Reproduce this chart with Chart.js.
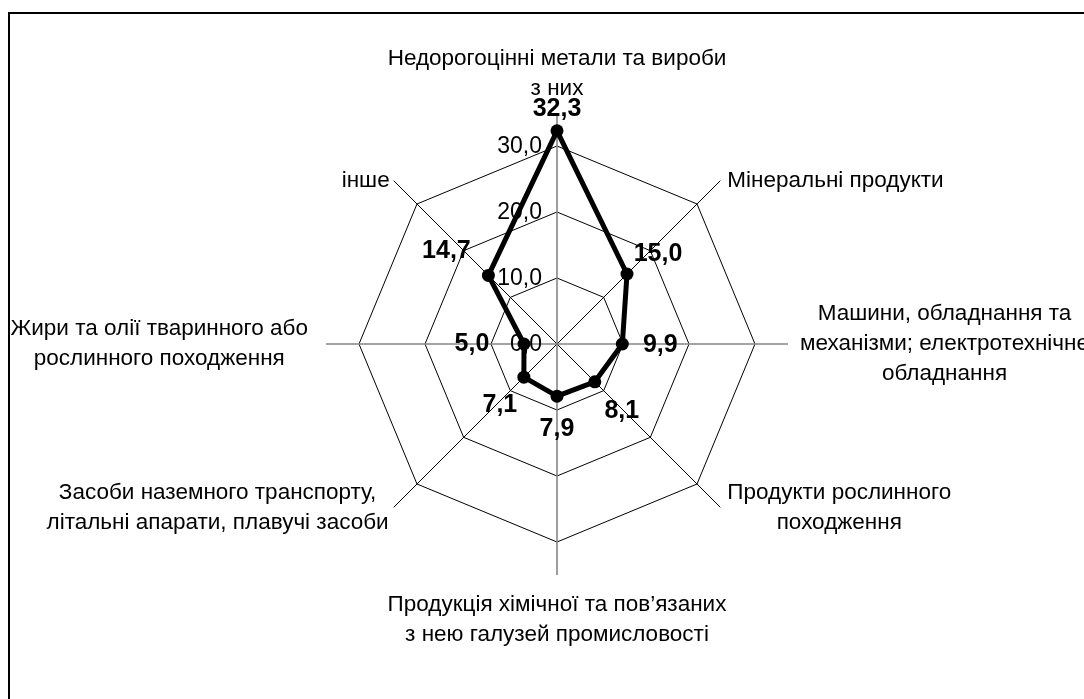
<!DOCTYPE html>
<html>
<head>
<meta charset="utf-8">
<script src="https://cdn.jsdelivr.net/npm/chart.js@4/dist/chart.umd.min.js"></script>
<style>
  html, body { margin: 0; padding: 0; background: #fff; }
  #wrap { width: 1084px; height: 699px; position: relative; }
</style>
</head>
<body>
<div id="wrap"><canvas id="radar"></canvas></div>
<script>
// categories, clockwise from the top (each entry = lines of the label)
const categories = [
  ["Недорогоцінні метали та вироби", "з них"],
  ["Мінеральні продукти"],
  ["Машини, обладнання та", "механізми; електротехнічне", "обладнання"],
  ["Продукти рослинного", "походження"],
  ["Продукція хімічної та пов’язаних", "з нею галузей промисловості"],
  ["Засоби наземного транспорту,", "літальні апарати, плавучі засоби"],
  ["Жири та олії тваринного або", "рослинного походження"],
  ["інше"]
];
const shares = [32.3, 15.0, 9.9, 8.1, 7.9, 7.1, 5.0, 14.7];
const tickValues = [0, 10, 20, 30];

// layout / style
const FONT = '"Liberation Sans", Arial, sans-serif';
const LABEL_PAD = [9, 7, 12, 7, 15, 5, 18, 4];
const LINE_H = 30;
const VALUE_OFFSETS = [[0, -22], [31, -20], [38, 1], [27, 29], [0, 33], [-24, 28], [-52, 0], [-42, -24]];

const fmt = v => v.toFixed(1).replace(".", ",");

const frame = {
  id: "frame",
  beforeDraw(chart) {
    const ctx = chart.ctx;
    ctx.save();
    ctx.fillStyle = "#fff";
    ctx.fillRect(0, 0, chart.width, chart.height);
    ctx.strokeStyle = "#000";
    ctx.lineWidth = 2;
    ctx.strokeRect(9, 13, 2000, 2000);
    ctx.restore();
  }
};

const radarText = {
  id: "radarText",
  beforeDatasetsDraw(chart) {
    const ctx = chart.ctx;
    const r = chart.scales.r;
    ctx.save();
    ctx.fillStyle = "#000";
    // tick labels, left of the vertical axis
    ctx.font = "23px " + FONT;
    ctx.textAlign = "right";
    ctx.textBaseline = "middle";
    for (const v of tickValues) {
      const d = r.getDistanceFromCenterForValue(v);
      ctx.fillText(fmt(v), r.xCenter - 15, r.yCenter - d + 1);
    }
    // category labels
    ctx.font = "22.5px " + FONT;
    ctx.textAlign = "center";
    categories.forEach((lines, i) => {
      const p = r.getPointPosition(i, r.drawingArea);
      const dx = p.x - r.xCenter, dy = p.y - r.yCenter;
      const pad = LABEL_PAD[i];
      const w = Math.max(...lines.map(s => ctx.measureText(s).width));
      const h = lines.length * LINE_H;
      let cx, top;
      if (Math.abs(dx) < 1) {
        cx = p.x;
        top = dy < 0 ? p.y - pad - h : p.y + pad;
      } else {
        cx = dx > 0 ? p.x + pad + w / 2 : p.x - pad - w / 2;
        top = p.y - h / 2;
      }
      lines.forEach((s, k) => ctx.fillText(s, cx, top + LINE_H * (k + 0.5)));
    });
    ctx.restore();
  },
  afterDatasetsDraw(chart) {
    const ctx = chart.ctx;
    const meta = chart.getDatasetMeta(0);
    ctx.save();
    ctx.fillStyle = "#000";
    ctx.font = "bold 25px " + FONT;
    ctx.textAlign = "center";
    ctx.textBaseline = "middle";
    meta.data.forEach((pt, i) => {
      const o = VALUE_OFFSETS[i];
      ctx.fillText(fmt(shares[i]), pt.x + o[0], pt.y + o[1]);
    });
    ctx.restore();
  }
};

new Chart(document.getElementById("radar"), {
  type: "radar",
  data: {
    labels: categories,
    datasets: [{
      data: shares,
      fill: false,
      borderColor: "#000",
      borderWidth: 5,
      borderJoinStyle: "round",
      tension: 0,
      pointRadius: 6.5,
      pointHoverRadius: 6.5,
      pointBackgroundColor: "#000",
      pointBorderColor: "#000",
      pointBorderWidth: 0
    }]
  },
  options: {
    responsive: true,
    maintainAspectRatio: false,
    animation: false,
    layout: { padding: { left: 326, right: 296, top: 113, bottom: 123 } },
    plugins: { legend: { display: false }, tooltip: { enabled: false } },
    scales: {
      r: {
        min: 0,
        max: 35,
        ticks: { display: false, stepSize: 10 },
        grid: {
          circular: false,
          lineWidth: 1,
          color: c => (c.tick && c.tick.value > 30 ? "rgba(0,0,0,0)" : "#000")
        },
        angleLines: {
          lineWidth: c => (c.index % 2 === 0 ? 1.6 : 1),
          color: c => (c.index % 2 === 0 ? "#868686" : "#000")
        },
        pointLabels: { display: false }
      }
    }
  },
  plugins: [frame, radarText]
});
</script>
</body>
</html>
